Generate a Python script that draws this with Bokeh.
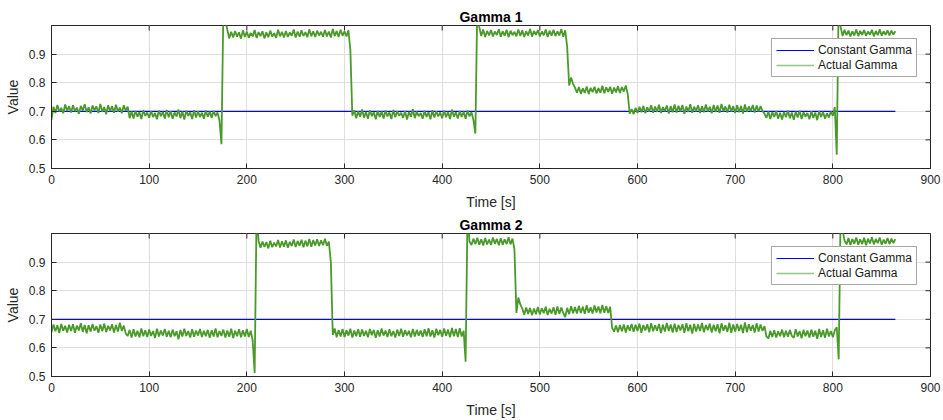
import numpy as np
from bokeh.plotting import figure
from bokeh.layouts import column
from bokeh.models import Range1d, FixedTicker
from bokeh.embed import file_html
from bokeh.resources import INLINE

# ---------------- data ----------------
sample_step = 2.0          # seconds between samples
t_end = 864.0              # last sample time
constant_gamma = 0.7

x_min, x_max = 0, 900
y_min, y_max = 0.5, 1.0
x_ticks = [0, 100, 200, 300, 400, 500, 600, 700, 800, 900]
y_ticks = [0.5, 0.6, 0.7, 0.8, 0.9]

# Gamma 1, one sample every 2 s (rows of 20 s)
gamma1 = [
    0.670, 0.716, 0.694, 0.722, 0.699, 0.712, 0.693, 0.724, 0.701, 0.718,
    0.696, 0.721, 0.700, 0.713, 0.691, 0.719, 0.702, 0.725, 0.697, 0.714,
    0.692, 0.720, 0.703, 0.717, 0.694, 0.726, 0.698, 0.715, 0.690, 0.721,
    0.700, 0.718, 0.695, 0.723, 0.699, 0.713, 0.693, 0.721, 0.702, 0.716,
    0.676, 0.699, 0.675, 0.702, 0.681, 0.697, 0.673, 0.704, 0.684, 0.696,
    0.677, 0.701, 0.680, 0.694, 0.672, 0.703, 0.683, 0.698, 0.675, 0.705,
    0.679, 0.700, 0.674, 0.696, 0.682, 0.706, 0.676, 0.699, 0.671, 0.702,
    0.684, 0.697, 0.673, 0.704, 0.678, 0.700, 0.680, 0.695, 0.674, 0.703,
    0.681, 0.699, 0.677, 0.702, 0.683, 0.696, 0.668, 0.585, 1.060, 1.020,
    0.985, 0.955, 0.978, 0.958, 0.981, 0.961, 0.976, 0.954, 0.983, 0.960,
    0.979, 0.957, 0.974, 0.962, 0.984, 0.956, 0.977, 0.963, 0.980, 0.955,
    0.976, 0.959, 0.982, 0.961, 0.973, 0.957, 0.985, 0.962, 0.978, 0.958,
    0.981, 0.960, 0.976, 0.964, 0.986, 0.958, 0.979, 0.961, 0.983, 0.963,
    0.977, 0.959, 0.987, 0.962, 0.980, 0.960, 0.982, 0.965, 0.978, 0.961,
    0.984, 0.962, 0.979, 0.958, 0.988, 0.963, 0.981, 0.960, 0.985, 0.964,
    0.980, 0.962, 0.983, 0.915, 0.685, 0.703, 0.676, 0.700, 0.681, 0.706,
    0.678, 0.698, 0.674, 0.704, 0.683, 0.697, 0.672, 0.702, 0.680, 0.699,
    0.675, 0.703, 0.682, 0.696, 0.673, 0.705, 0.679, 0.700, 0.684, 0.695,
    0.677, 0.701, 0.671, 0.698, 0.681, 0.707, 0.676, 0.699, 0.683, 0.694,
    0.674, 0.702, 0.680, 0.697, 0.672, 0.704, 0.678, 0.700, 0.682, 0.696,
    0.676, 0.703, 0.679, 0.698, 0.673, 0.706, 0.681, 0.697, 0.675, 0.701,
    0.680, 0.699, 0.674, 0.703, 0.682, 0.697, 0.670, 0.622, 1.080, 0.995,
    0.963, 0.986, 0.960, 0.981, 0.965, 0.984, 0.962, 0.979, 0.967, 0.987,
    0.961, 0.980, 0.964, 0.985, 0.959, 0.982, 0.966, 0.978, 0.962, 0.986,
    0.963, 0.983, 0.960, 0.980, 0.965, 0.988, 0.961, 0.981, 0.967, 0.984,
    0.962, 0.979, 0.966, 0.986, 0.960, 0.982, 0.964, 0.985, 0.963, 0.980,
    0.965, 0.987, 0.961, 0.983, 0.925, 0.790, 0.818, 0.796, 0.783, 0.765,
    0.785, 0.761, 0.780, 0.764, 0.787, 0.760, 0.782, 0.767, 0.786, 0.762,
    0.781, 0.765, 0.789, 0.763, 0.784, 0.768, 0.786, 0.761, 0.783, 0.766,
    0.788, 0.764, 0.785, 0.769, 0.790, 0.760, 0.692, 0.708, 0.690, 0.712,
    0.694, 0.716, 0.697, 0.719, 0.693, 0.714, 0.699, 0.721, 0.695, 0.717,
    0.698, 0.723, 0.694, 0.715, 0.700, 0.720, 0.692, 0.718, 0.697, 0.724,
    0.696, 0.719, 0.699, 0.722, 0.691, 0.717, 0.698, 0.725, 0.695, 0.716,
    0.700, 0.721, 0.694, 0.718, 0.697, 0.724, 0.699, 0.716, 0.693, 0.722,
    0.698, 0.720, 0.695, 0.726, 0.700, 0.717, 0.696, 0.723, 0.699, 0.718,
    0.694, 0.721, 0.697, 0.719, 0.692, 0.724, 0.698, 0.717, 0.700, 0.722,
    0.696, 0.720, 0.699, 0.718, 0.701, 0.692, 0.677, 0.699, 0.673, 0.697,
    0.680, 0.701, 0.674, 0.695, 0.671, 0.698, 0.679, 0.703, 0.676, 0.696,
    0.670, 0.699, 0.678, 0.702, 0.673, 0.697, 0.681, 0.694, 0.672, 0.700,
    0.677, 0.696, 0.669, 0.701, 0.680, 0.698, 0.674, 0.693, 0.678, 0.699,
    0.684, 0.715, 0.548, 1.090, 0.995, 0.963, 0.985, 0.966, 0.982, 0.962,
    0.980, 0.965, 0.986, 0.963, 0.981, 0.967, 0.984, 0.964, 0.979, 0.968,
    0.985, 0.962, 0.981, 0.966, 0.987, 0.964, 0.980, 0.967, 0.983, 0.965,
    0.982, 0.968, 0.980,
]

# Gamma 2, one sample every 2 s (rows of 20 s)
gamma2 = [
    0.655, 0.682, 0.658, 0.679, 0.652, 0.684, 0.660, 0.677, 0.654, 0.681,
    0.659, 0.683, 0.653, 0.678, 0.661, 0.686, 0.656, 0.680, 0.651, 0.679,
    0.657, 0.684, 0.660, 0.676, 0.653, 0.682, 0.658, 0.685, 0.655, 0.677,
    0.661, 0.683, 0.654, 0.680, 0.657, 0.688, 0.659, 0.678, 0.650, 0.642,
    0.663, 0.636, 0.665, 0.640, 0.660, 0.637, 0.668, 0.641, 0.662, 0.638,
    0.664, 0.642, 0.659, 0.635, 0.667, 0.640, 0.661, 0.643, 0.666, 0.639,
    0.660, 0.637, 0.664, 0.641, 0.658, 0.630, 0.663, 0.640, 0.667, 0.642,
    0.659, 0.636, 0.665, 0.639, 0.661, 0.643, 0.666, 0.638, 0.660, 0.641,
    0.663, 0.635, 0.662, 0.640, 0.668, 0.637, 0.659, 0.642, 0.664, 0.636,
    0.661, 0.639, 0.667, 0.634, 0.660, 0.641, 0.665, 0.637, 0.662, 0.640,
    0.666, 0.638, 0.660, 0.625, 0.512, 1.080, 0.975, 0.950, 0.972, 0.953,
    0.970, 0.948, 0.975, 0.952, 0.968, 0.955, 0.977, 0.951, 0.973, 0.954,
    0.976, 0.950, 0.971, 0.956, 0.979, 0.953, 0.974, 0.957, 0.978, 0.952,
    0.975, 0.955, 0.981, 0.954, 0.977, 0.958, 0.980, 0.956, 0.976, 0.959,
    0.982, 0.957, 0.972, 0.900, 0.645, 0.668, 0.637, 0.663, 0.640, 0.666,
    0.638, 0.662, 0.643, 0.667, 0.636, 0.661, 0.641, 0.665, 0.639, 0.664,
    0.642, 0.660, 0.637, 0.666, 0.644, 0.663, 0.635, 0.662, 0.640, 0.668,
    0.643, 0.661, 0.638, 0.665, 0.641, 0.659, 0.636, 0.664, 0.642, 0.667,
    0.639, 0.662, 0.644, 0.660, 0.637, 0.666, 0.640, 0.663, 0.643, 0.661,
    0.638, 0.665, 0.641, 0.669, 0.640, 0.662, 0.636, 0.667, 0.644, 0.663,
    0.639, 0.668, 0.642, 0.664, 0.637, 0.670, 0.641, 0.666, 0.638, 0.669,
    0.640, 0.660, 0.552, 1.080, 0.972, 0.960, 0.982, 0.963, 0.985, 0.961,
    0.980, 0.958, 0.984, 0.962, 0.979, 0.960, 0.986, 0.964, 0.981, 0.959,
    0.983, 0.961, 0.980, 0.963, 0.987, 0.962, 0.982, 0.945, 0.722, 0.776,
    0.752, 0.738, 0.716, 0.741, 0.719, 0.740, 0.714, 0.738, 0.718, 0.743,
    0.717, 0.739, 0.721, 0.744, 0.715, 0.737, 0.720, 0.742, 0.716, 0.745,
    0.719, 0.741, 0.722, 0.708, 0.740, 0.718, 0.746, 0.721, 0.743, 0.720,
    0.747, 0.722, 0.744, 0.719, 0.749, 0.723, 0.742, 0.720, 0.748, 0.724,
    0.745, 0.721, 0.750, 0.723, 0.746, 0.722, 0.744, 0.670, 0.657, 0.678,
    0.655, 0.680, 0.658, 0.682, 0.654, 0.679, 0.660, 0.684, 0.656, 0.681,
    0.659, 0.685, 0.653, 0.680, 0.661, 0.683, 0.655, 0.686, 0.658, 0.679,
    0.660, 0.684, 0.652, 0.681, 0.657, 0.687, 0.659, 0.682, 0.654, 0.685,
    0.656, 0.680, 0.661, 0.683, 0.653, 0.686, 0.658, 0.681, 0.650, 0.684,
    0.657, 0.682, 0.659, 0.687, 0.655, 0.680, 0.662, 0.685, 0.654, 0.681,
    0.658, 0.683, 0.651, 0.686, 0.660, 0.679, 0.656, 0.688, 0.653, 0.682,
    0.657, 0.684, 0.659, 0.681, 0.652, 0.689, 0.655, 0.683, 0.660, 0.680,
    0.654, 0.686, 0.657, 0.682, 0.659, 0.676, 0.640, 0.633, 0.660, 0.638,
    0.662, 0.636, 0.658, 0.641, 0.664, 0.637, 0.660, 0.639, 0.663, 0.642,
    0.635, 0.665, 0.640, 0.659, 0.634, 0.663, 0.641, 0.661, 0.636, 0.664,
    0.639, 0.660, 0.632, 0.666, 0.638, 0.662, 0.635, 0.667, 0.640, 0.659,
    0.637, 0.662, 0.672, 0.560, 1.080, 1.010, 0.975, 0.962, 0.984, 0.960,
    0.981, 0.964, 0.986, 0.961, 0.980, 0.963, 0.985, 0.959, 0.982, 0.965,
    0.987, 0.962, 0.981, 0.966, 0.986, 0.961, 0.979, 0.964, 0.984, 0.963,
    0.982, 0.966, 0.980,
]

titles = ["Gamma 1", "Gamma 2"]
series = [gamma1, gamma2]

# ---------------- styling ----------------
FONT = "Liberation Sans"
AX_COLOR = "#262626"
GRID_COLOR = "#dfdfdf"
BLUE = "#0000ff"
GREEN = "#4a9a2a"
GREEN_LEGEND = "#93c685"


def make_panel(title, values, height, top, bottom):
    p = figure(width=943, height=height,
               x_range=Range1d(x_min, x_max), y_range=Range1d(y_min, y_max),
               output_backend="svg", toolbar_location=None,
               min_border_left=51, min_border_right=13,
               min_border_top=top, min_border_bottom=bottom,
               background_fill_color="white", border_fill_color="white",
               outline_line_color=AX_COLOR, outline_line_width=1)

    p.title.text = title
    p.title.align = "center"
    p.title.text_font = FONT
    p.title.text_font_size = "14px"
    p.title.text_font_style = "bold"
    p.title.text_color = "#000000"
    p.title.standoff = 2

    xt = FixedTicker(ticks=x_ticks)
    yt = FixedTicker(ticks=y_ticks)

    for ax in (p.xaxis[0], p.yaxis[0]):
        ax.major_tick_in = 5
        ax.major_tick_out = 0
        ax.minor_tick_in = 0
        ax.minor_tick_out = 0
        ax.axis_line_color = AX_COLOR
        ax.major_tick_line_color = AX_COLOR
        ax.major_label_text_font = FONT
        ax.major_label_text_font_size = "12px"
        ax.major_label_text_color = AX_COLOR
        ax.axis_label_text_font = FONT
        ax.axis_label_text_font_size = "14px"
        ax.axis_label_text_font_style = "normal"
        ax.axis_label_text_color = AX_COLOR
    p.xaxis[0].ticker = xt
    p.yaxis[0].ticker = yt
    p.xaxis[0].axis_label = "Time [s]"
    p.xaxis[0].major_label_standoff = 6
    p.xaxis[0].axis_label_standoff = 7
    p.yaxis[0].axis_label = "Value"
    p.yaxis[0].major_label_standoff = 6
    p.yaxis[0].axis_label_standoff = 5

    p.xgrid.ticker = xt
    p.ygrid.ticker = yt
    p.xgrid.grid_line_color = GRID_COLOR
    p.ygrid.grid_line_color = GRID_COLOR

    # inward tick marks on the top and right edges of the box
    p.ray(x=x_ticks, y=[y_max] * len(x_ticks), length=5, length_units="screen",
          angle=-np.pi / 2, line_color=AX_COLOR, line_width=1)
    p.ray(x=[x_max] * len(y_ticks), y=y_ticks, length=5, length_units="screen",
          angle=np.pi, line_color=AX_COLOR, line_width=1)

    t = np.arange(len(values)) * sample_step
    p.line([0, t_end], [constant_gamma, constant_gamma], line_color=BLUE,
           line_width=1.2, legend_label="Constant Gamma")
    p.line(x=[np.nan, np.nan], y=[np.nan, np.nan], line_color=GREEN_LEGEND,
           line_width=1.6, legend_label="Actual Gamma")
    p.line(t, values, line_color=GREEN, line_width=1.8, line_join="bevel")

    lg = p.legend[0]
    lg.location = "top_right"
    lg.margin = 13
    lg.padding = 4
    lg.spacing = 1
    lg.glyph_width = 38
    lg.glyph_height = 14
    lg.label_height = 14
    lg.label_standoff = 4
    lg.label_text_font = FONT
    lg.label_text_font_size = "12px"
    lg.label_text_color = "#1a1a1a"
    lg.border_line_color = "#4d4d4d"
    lg.border_line_width = 1
    lg.background_fill_color = "white"
    lg.background_fill_alpha = 1.0
    return p


p1 = make_panel(titles[0], series[0], 212, 25, 42)
p2 = make_panel(titles[1], series[1], 208, 21, 42)
p = column(p1, p2)

open("out.html", "w").write(file_html(p, INLINE))
